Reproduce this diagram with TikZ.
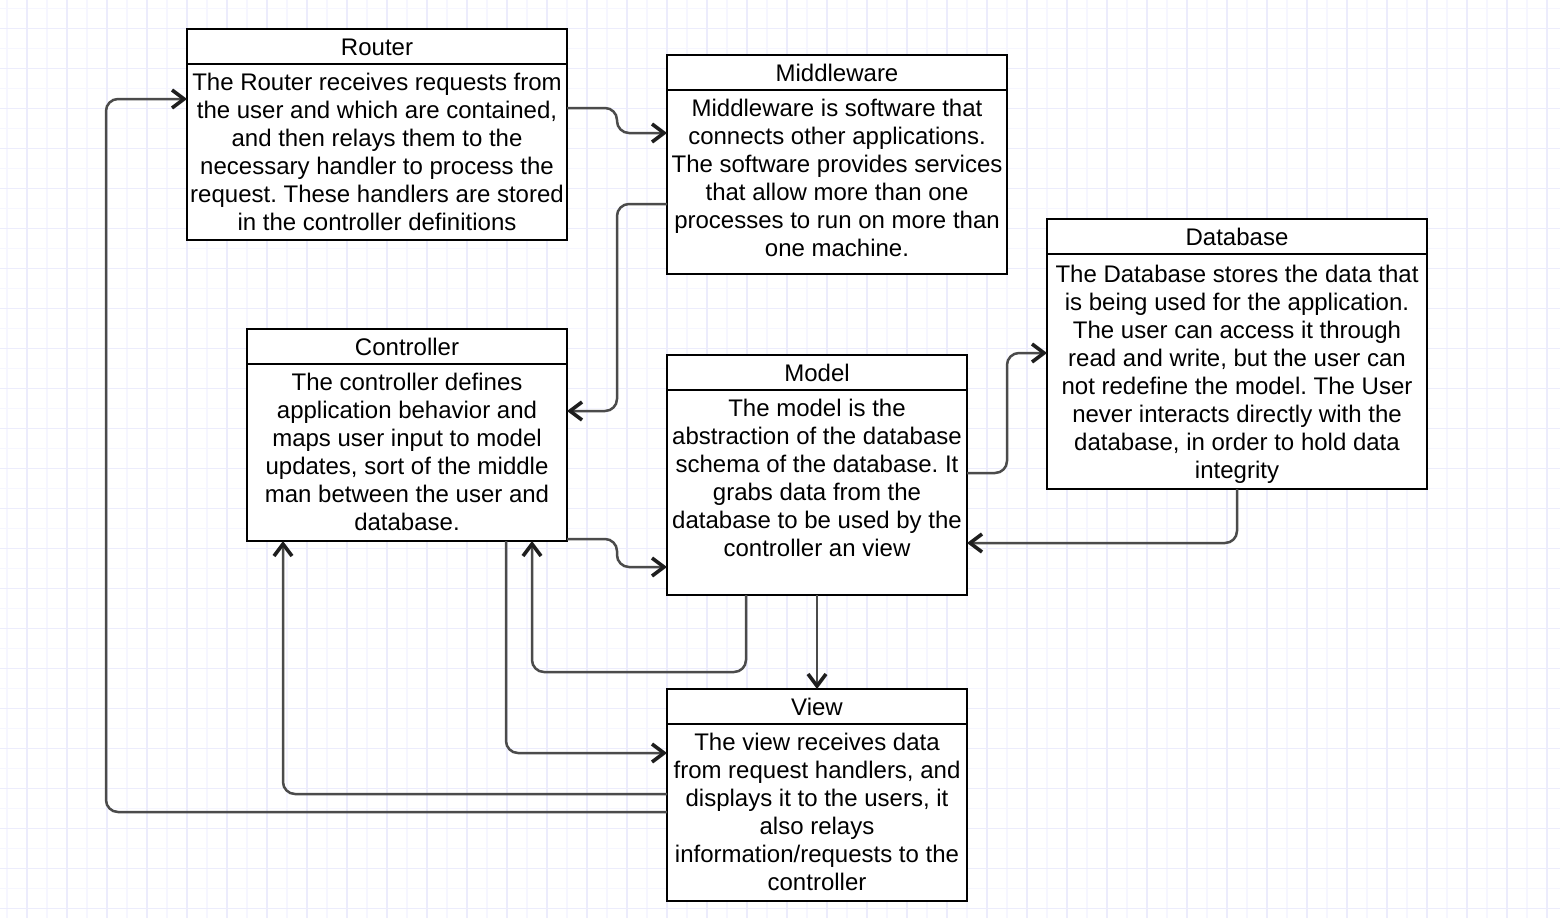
\documentclass[tikz,border=0pt]{standalone}
\usepackage{fontspec}
\setmainfont{Liberation Sans}
\usetikzlibrary{arrows.meta}
\frenchspacing

\definecolor{gridA}{RGB}{246,246,255}
\definecolor{gridB}{RGB}{236,236,252}
\definecolor{wire}{RGB}{75,75,75}
\definecolor{tipc}{RGB}{30,30,30}

\tikzset{
  panel/.style={draw=black, line width=2pt, fill=white, anchor=north west,
    inner sep=0pt, outer sep=0pt},
  title/.style={anchor=base, inner sep=0pt, font=\fontsize{24}{28}\selectfont},
  body/.style={anchor=north, inner sep=0pt, align=center,
    font=\fontsize{24}{28}\selectfont},
  link/.style={draw=wire, line width=2.5pt, rounded corners=12pt,
    -{Straight Barb[length=12pt,width=18pt,line width=3.6pt,color=tipc]}},
}

\begin{document}
\begin{tikzpicture}[x=1pt,y=-1pt]
\useasboundingbox (0,0) rectangle (1560,918);
\fill[white] (0,0) rectangle (1560,918);

% background grid, every 20 units with alternating shades
\foreach \g in {6.7,46.7,...,1560} \draw[gridA, line width=1.6pt] (\g,0) -- (\g,918);
\foreach \g in {8.3,48.3,...,918} \draw[gridA, line width=1.6pt] (0,\g) -- (1560,\g);
\foreach \g in {26.7,66.7,...,1560} \draw[gridB, line width=1.6pt] (\g,0) -- (\g,918);
\foreach \g in {28.3,68.3,...,918} \draw[gridB, line width=1.6pt] (0,\g) -- (1560,\g);

% boxes
\node[panel, minimum width=380pt, minimum height=211pt] (router) at (187,29) {};
\node[panel, minimum width=340pt, minimum height=219pt] (mw) at (667,55) {};
\node[panel, minimum width=380pt, minimum height=270pt] (db) at (1047,219) {};
\node[panel, minimum width=320pt, minimum height=212pt] (ctrl) at (247,329) {};
\node[panel, minimum width=300pt, minimum height=240pt] (model) at (667,355) {};
\node[panel, minimum width=300pt, minimum height=212pt] (view) at (667,689) {};

% header separators
\foreach \b in {router,mw,db,ctrl,model,view}
  \draw[line width=2pt] ([yshift=-35pt]\b.north west) -- ([yshift=-35pt]\b.north east);

% titles
\node[title] (routerT) at ([yshift=-26pt]router.north) {Router};
\node[title] (mwT) at ([yshift=-26pt]mw.north) {Middleware};
\node[title] (dbT) at ([yshift=-26pt]db.north) {Database};
\node[title] (ctrlT) at ([yshift=-26pt]ctrl.north) {Controller};
\node[title] (modelT) at ([yshift=-26pt]model.north) {Model};
\node[title] (viewT) at ([yshift=-26pt]view.north) {View};

% descriptions
\node[body] (routerB) at ([yshift=-42pt]router.north) {\strut The Router receives requests from\\the user and which are contained,\\and then relays them to the\\necessary handler to process the\\request. These handlers are stored\\in the controller definitions};
\node[body] (mwB) at ([yshift=-42pt]mw.north) {\strut Middleware is software that\\connects other applications.\\The software provides services\\that allow more than one\\processes to run on more than\\one machine.};
\node[body] (dbB) at ([yshift=-44pt]db.north) {\strut The Database stores the data that\\is being used for the application.\\The user can access it through\\read and write, but the user can\\not redefine the model. The User\\never interacts directly with the\\database, in order to hold data\\integrity};
\node[body] (ctrlB) at ([yshift=-42pt]ctrl.north) {\strut The controller defines\\application behavior and\\maps user input to model\\updates, sort of the middle\\man between the user and\\database.};
\node[body] (modelB) at ([yshift=-42pt]model.north) {\strut The model is the\\abstraction of the database\\schema of the database. It\\grabs data from the\\database to be used by the\\controller an view};
\node[body] (viewB) at ([yshift=-42pt]view.north) {\strut The view receives data\\from request handlers, and\\displays it to the users, it\\also relays\\information/requests to the\\controller};

% connectors
\draw[link] ([yshift=-79pt]router.north east) -- ++(50,0) |- ([yshift=-78pt]mw.north west);
\draw[link] ([yshift=-149pt]mw.north west) -- ++(-50,0) |- ([yshift=-82pt]ctrl.north east);
\draw[link] ([yshift=-210pt]ctrl.north east) -- ++(50,0) |- ([yshift=-212pt]model.north west);
\draw[link] ([yshift=-118pt]model.north east) -- ++(40,0) |- ([yshift=-134pt]db.north west);
\draw[link] (db.south) |- ([yshift=-188pt]model.north east);
\draw[link] (model.south) -- (view.north);
\draw[link] ([xshift=79pt]model.south west) -- ++(0,77) -| ([xshift=285pt]ctrl.south west);
\draw[link] ([xshift=259pt]ctrl.south west) |- ([yshift=-64pt]view.north west);
\draw[link] ([yshift=-105pt]view.north west) -| ([xshift=36pt]ctrl.south west);
\draw[link] ([yshift=-123pt]view.north west) -- ++(-561,0) |- ([yshift=-70pt]router.north west);
\end{tikzpicture}
\end{document}
